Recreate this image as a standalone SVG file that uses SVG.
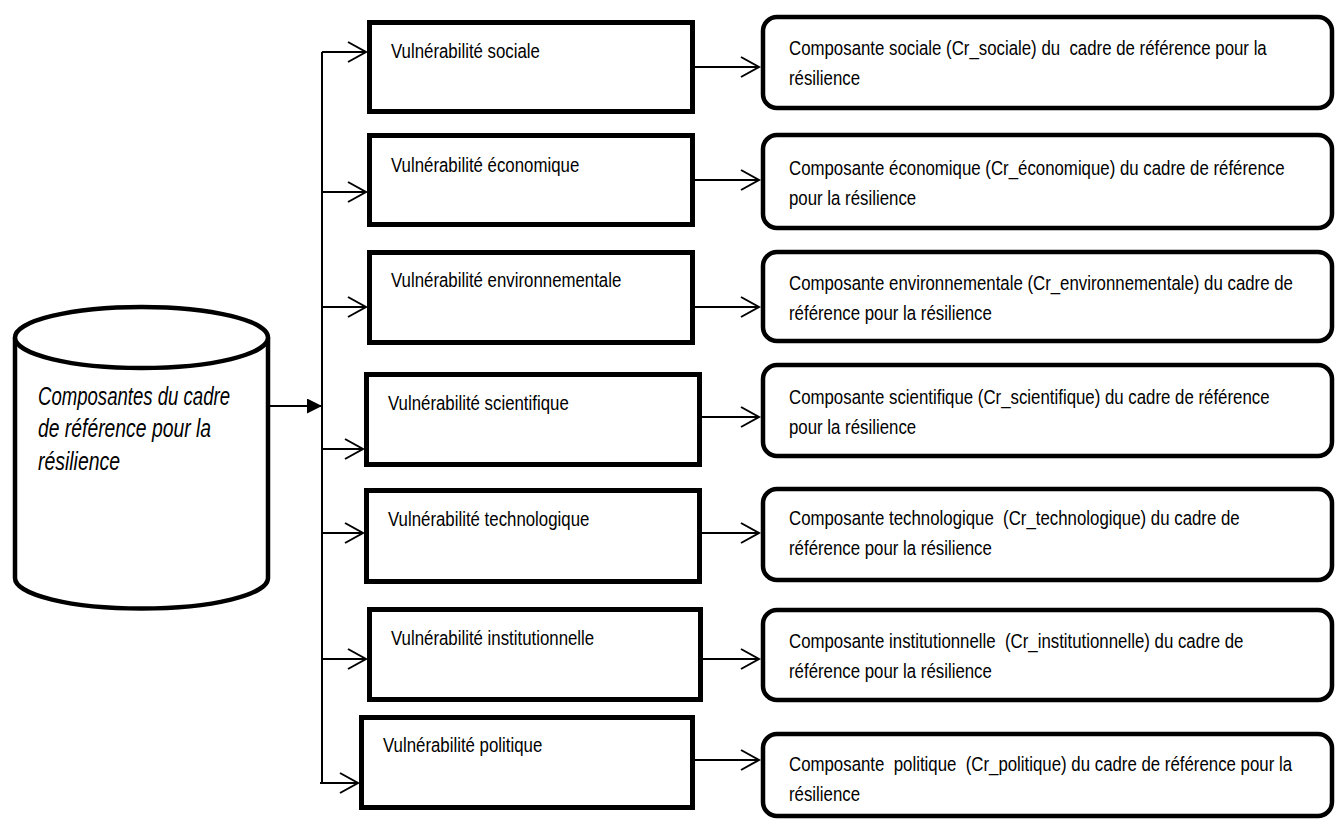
<svg xmlns="http://www.w3.org/2000/svg" width="1335" height="821" viewBox="0 0 1335 821">
<style>
  .bg { fill: #ffffff; }
  .box { fill: #ffffff; stroke: #000000; stroke-width: 5; }
  .rbox { fill: #ffffff; stroke: #000000; stroke-width: 4.5; }
  .cyl { fill: #ffffff; stroke: #000000; stroke-width: 4.5; }
  .lbl { font-family: "Liberation Sans", Arial, sans-serif; font-size: 19.5px; fill: #000000; white-space: pre; }
  .cyltxt { font-family: "Liberation Sans", Arial, sans-serif; font-size: 25.5px; font-style: italic; fill: #000000; }
  .conn { fill: none; stroke: #000000; stroke-width: 2; }
</style>
<defs>
  <marker id="open" markerUnits="userSpaceOnUse" markerWidth="22" markerHeight="24" refX="18" refY="11" orient="auto" overflow="visible">
    <path d="M0,1 L18,11 L0,21" fill="none" stroke="#000000" stroke-width="2"/>
  </marker>
  <marker id="solid" markerUnits="userSpaceOnUse" markerWidth="16" markerHeight="16" refX="15" refY="7.5" orient="auto">
    <path d="M0,0 L15,7.5 L0,15 z" fill="#000000"/>
  </marker>
</defs>
<rect class="bg" x="0" y="0" width="1335" height="821"/>

<g id="connectors">
  <line class="conn" x1="322" y1="52" x2="322" y2="783"/>
  <line class="conn" x1="269" y1="406" x2="322" y2="406" marker-end="url(#solid)"/>
  <line class="conn" x1="322" y1="52" x2="366" y2="52" marker-end="url(#open)"/>
  <line class="conn" x1="322" y1="192" x2="366" y2="192" marker-end="url(#open)"/>
  <line class="conn" x1="322" y1="307" x2="366" y2="307" marker-end="url(#open)"/>
  <line class="conn" x1="322" y1="449" x2="363" y2="449" marker-end="url(#open)"/>
  <line class="conn" x1="322" y1="533" x2="363" y2="533" marker-end="url(#open)"/>
  <line class="conn" x1="322" y1="659" x2="366" y2="659" marker-end="url(#open)"/>
  <line class="conn" x1="320" y1="783" x2="358" y2="783" marker-end="url(#open)"/>
  <line class="conn" x1="695" y1="67" x2="759" y2="67" marker-end="url(#open)"/>
  <line class="conn" x1="695" y1="180" x2="759" y2="180" marker-end="url(#open)"/>
  <line class="conn" x1="695" y1="307" x2="759" y2="307" marker-end="url(#open)"/>
  <line class="conn" x1="702" y1="417" x2="759" y2="417" marker-end="url(#open)"/>
  <line class="conn" x1="702" y1="533" x2="759" y2="533" marker-end="url(#open)"/>
  <line class="conn" x1="703" y1="659" x2="759" y2="659" marker-end="url(#open)"/>
  <line class="conn" x1="695" y1="760" x2="759" y2="760" marker-end="url(#open)"/>
</g>

<g id="cylinder">
  <path class="cyl" d="M15,337.5 L15,578 A126.5,30.5 0 0 0 268,578 L268,337.5"/>
  <ellipse class="cyl" cx="141.5" cy="337.5" rx="126.5" ry="30.5"/>
  <text class="cyltxt" x="38" y="405" textLength="192" lengthAdjust="spacingAndGlyphs">Composantes du cadre</text>
  <text class="cyltxt" x="38" y="437" textLength="173" lengthAdjust="spacingAndGlyphs">de référence pour la</text>
  <text class="cyltxt" x="38" y="470" textLength="82" lengthAdjust="spacingAndGlyphs">résilience</text>
</g>

<g id="v-sociale">
  <rect class="box" x="369.5" y="22.5" width="323" height="89"/>
  <text class="lbl" transform="translate(391 58) scale(0.863 1)">Vulnérabilité sociale</text>
</g>
<g id="v-economique">
  <rect class="box" x="369.5" y="135.5" width="323" height="89"/>
  <text class="lbl" transform="translate(391 172) scale(0.863 1)">Vulnérabilité économique</text>
</g>
<g id="v-environnementale">
  <rect class="box" x="369.5" y="252.5" width="323" height="90"/>
  <text class="lbl" transform="translate(391 287) scale(0.863 1)">Vulnérabilité environnementale</text>
</g>
<g id="v-scientifique">
  <rect class="box" x="366.5" y="374.5" width="333" height="90"/>
  <text class="lbl" transform="translate(388 410) scale(0.863 1)">Vulnérabilité scientifique</text>
</g>
<g id="v-technologique">
  <rect class="box" x="366.5" y="490.5" width="333" height="91"/>
  <text class="lbl" transform="translate(388 526) scale(0.863 1)">Vulnérabilité technologique</text>
</g>
<g id="v-institutionnelle">
  <rect class="box" x="369.5" y="609.5" width="331" height="90"/>
  <text class="lbl" transform="translate(391 645) scale(0.863 1)">Vulnérabilité institutionnelle</text>
</g>
<g id="v-politique">
  <rect class="box" x="361.5" y="717.5" width="331" height="90"/>
  <text class="lbl" transform="translate(383 752) scale(0.863 1)">Vulnérabilité politique</text>
</g>

<g id="c-sociale">
  <rect class="rbox" x="763" y="17" width="569" height="91" rx="14" ry="14"/>
  <text class="lbl" transform="translate(789 55) scale(0.863 1)">Composante sociale (Cr_sociale) du  cadre de référence pour la</text>
  <text class="lbl" transform="translate(789 85) scale(0.863 1)">résilience</text>
</g>
<g id="c-economique">
  <rect class="rbox" x="763" y="135" width="569" height="93" rx="14" ry="14"/>
  <text class="lbl" transform="translate(789 175) scale(0.863 1)">Composante économique (Cr_économique) du cadre de référence</text>
  <text class="lbl" transform="translate(789 205) scale(0.863 1)">pour la résilience</text>
</g>
<g id="c-environnementale">
  <rect class="rbox" x="763" y="252" width="569" height="89" rx="14" ry="14"/>
  <text class="lbl" transform="translate(789 290) scale(0.863 1)">Composante environnementale (Cr_environnementale) du cadre de</text>
  <text class="lbl" transform="translate(789 320) scale(0.863 1)">référence pour la résilience</text>
</g>
<g id="c-scientifique">
  <rect class="rbox" x="763" y="365" width="569" height="91" rx="14" ry="14"/>
  <text class="lbl" transform="translate(789 404) scale(0.863 1)">Composante scientifique (Cr_scientifique) du cadre de référence</text>
  <text class="lbl" transform="translate(789 434) scale(0.863 1)">pour la résilience</text>
</g>
<g id="c-technologique">
  <rect class="rbox" x="763" y="489" width="569" height="91" rx="14" ry="14"/>
  <text class="lbl" transform="translate(789 525) scale(0.863 1)">Composante technologique  (Cr_technologique) du cadre de</text>
  <text class="lbl" transform="translate(789 555) scale(0.863 1)">référence pour la résilience</text>
</g>
<g id="c-institutionnelle">
  <rect class="rbox" x="763" y="610" width="569" height="90" rx="14" ry="14"/>
  <text class="lbl" transform="translate(789 648) scale(0.863 1)">Composante institutionnelle  (Cr_institutionnelle) du cadre de</text>
  <text class="lbl" transform="translate(789 678) scale(0.863 1)">référence pour la résilience</text>
</g>
<g id="c-politique">
  <rect class="rbox" x="763" y="734" width="569" height="82" rx="14" ry="14"/>
  <text class="lbl" transform="translate(789 771) scale(0.863 1)">Composante  politique  (Cr_politique) du cadre de référence pour la</text>
  <text class="lbl" transform="translate(789 801) scale(0.863 1)">résilience</text>
</g>
</svg>
